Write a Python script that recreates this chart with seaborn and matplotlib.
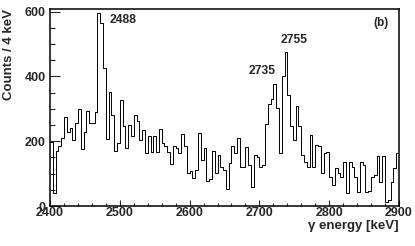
import numpy as np
import pandas as pd
import matplotlib
matplotlib.use("Agg")
import matplotlib.pyplot as plt
import seaborn as sns
from matplotlib.ticker import MultipleLocator

# counts per 4 keV bin, 2400 -> 2900 keV (125 bins)
counts = [
    199, 40, 171, 184, 209, 275, 227, 242, 204, 256,
    300, 176, 228, 292, 256, 256, 289, 595, 565, 427,
    206, 351, 282, 171, 194, 326, 246, 178, 251, 215,
    280, 261, 204, 235, 165, 215, 166, 215, 167, 237,
    194, 185, 168, 130, 185, 178, 165, 222, 184, 101,
    108, 85, 111, 225, 142, 178, 78, 82, 171, 103,
    158, 121, 111, 54, 134, 184, 163, 209, 119, 121,
    181, 127, 59, 158, 152, 121, 127, 254, 316, 329,
    375, 303, 163, 401, 476, 344, 246, 204, 308, 246,
    158, 137, 121, 220, 121, 189, 184, 101, 163, 168,
    90, 64, 116, 101, 90, 137, 40, 137, 121, 90,
    44, 135, 125, 44, 46, 90, 95, 155, 75, 153,
    12, 20, 75, 116, 163,
]
e_min, e_max, bin_w = 2400, 2900, 4
peak_labels = ["2488", "2735", "2755"]
peak_label_pos = [(2486, 574), (2684, 416), (2730, 512)]
x_ticks = [2400, 2500, 2600, 2700, 2800, 2900]
y_ticks = [0, 200, 400, 600]

edges = list(range(e_min, e_max + bin_w, bin_w))
df = pd.DataFrame({'energy': np.array(edges[:-1]) + bin_w / 2, 'counts': counts})

sns.set_style("ticks")
plt.rcParams['font.family'] = ['Liberation Sans', 'DejaVu Sans']
plt.rcParams['font.weight'] = 'bold'

fig = plt.figure(figsize=(4.15, 2.46), dpi=100)
ax = fig.add_axes([0.1205, 0.1626, 0.8409, 0.8008])

sns.histplot(data=df, x='energy', weights='counts', bins=edges, element="step", fill=False,
             color="black", linewidth=0.7, ax=ax)

ax.set_xlim(e_min, e_max)
ax.set_ylim(0, 608)
ax.set_xticks(x_ticks)
ax.set_yticks(y_ticks)
ax.xaxis.set_minor_locator(MultipleLocator(20))
ax.yaxis.set_minor_locator(MultipleLocator(50))
ax.tick_params(axis='x', which='major', direction='in', length=4.5, width=0.8, labelsize=9, pad=1)
ax.tick_params(axis='x', which='minor', direction='in', length=2.2, width=0.8)
ax.tick_params(axis='y', which='major', direction='in', length=7.5, width=0.8, labelsize=9, pad=3)
ax.tick_params(axis='y', which='minor', direction='in', length=3.6, width=0.8)
for lab in ax.get_xticklabels() + ax.get_yticklabels():
    lab.set_fontweight('bold')
for s in ax.spines.values():
    s.set_linewidth(1.1)
    s.set_color('black')

ax.set_xlabel("γ energy [keV]", fontsize=9.5, fontweight='bold', loc='right')
ax.xaxis.set_label_coords(1.0, -0.072)
ax.set_ylabel("Counts / 4 keV", fontsize=9.5, fontweight='bold', loc='top')
ax.yaxis.set_label_coords(-0.10, 1.0)

for txt, (px, py) in zip(peak_labels, peak_label_pos):
    ax.text(px, py, txt, fontsize=8.7, fontweight='bold', ha='left', va='center')
ax.text(2864, 565, "(b)", fontsize=8.5, fontweight='bold', ha='left', va='center')

fig.savefig("out.png", dpi=100)
